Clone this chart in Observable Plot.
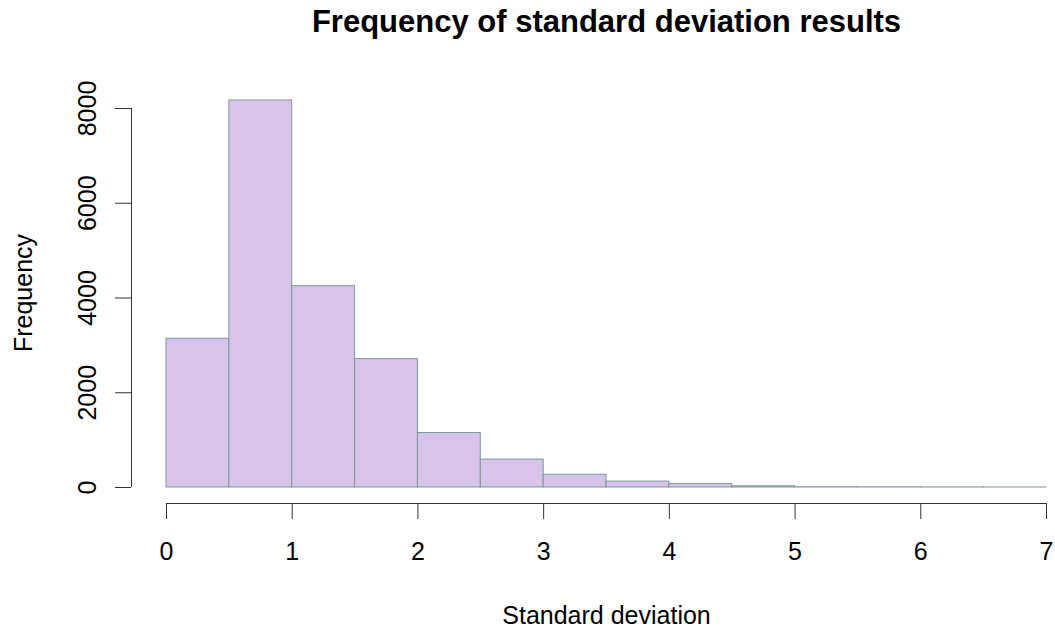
<!DOCTYPE html>
<html>
<head>
<meta charset="utf-8">
<script src="https://cdn.jsdelivr.net/npm/d3@7"></script>
<script src="https://cdn.jsdelivr.net/npm/@observablehq/plot@0.6"></script>
<style>
  html, body { margin: 0; padding: 0; background: #ffffff; }
  #chart svg { display: block; }
</style>
</head>
<body>
<div id="chart"></div>
<script>
// Histogram of standard deviation results: bins of width 0.5 from 0 to 7
const binStart = [0, 0.5, 1, 1.5, 2, 2.5, 3, 3.5, 4, 4.5, 5, 5.5, 6, 6.5];
const binWidth = 0.5;
const frequency = [3140, 8170, 4250, 2710, 1150, 590, 270, 125, 75, 25, 5, 3, 2, 1];

const xTicks = [0, 1, 2, 3, 4, 5, 6, 7];
const yTicks = [0, 2000, 4000, 6000, 8000];

const titleText = "Frequency of standard deviation results";
const xLabel = "Standard deviation";
const yLabel = "Frequency";

const bins = binStart.map((x0, i) => ({x0, x1: x0 + binWidth, count: frequency[i]}));

const axisColor = "#333333";
const fontFamily = "'Liberation Sans', Arial, Helvetica, sans-serif";
const plain = (d) => String(d);

const chart = Plot.plot({
  width: 1055,
  height: 628,
  marginLeft: 166,
  marginRight: 9,
  marginTop: 108,
  marginBottom: 141,
  style: {fontFamily, background: "#ffffff", color: "#000000", overflow: "visible"},
  x: {domain: [0, 7]},
  y: {domain: [0, 8000]},
  marks: [
    // histogram bars
    Plot.rectY(bins, {x1: "x0", x2: "x1", y: "count", fill: "#d8c4ea", stroke: "#7c9999", strokeWidth: 1}),

    // y axis, set off to the left of the bars
    Plot.ruleX([0], {y1: yTicks[0], y2: yTicks[yTicks.length - 1], dx: -35, stroke: axisColor}),
    Plot.axisY(yTicks, {
      dx: -35, tickSize: 16, tickRotate: -90, tickPadding: 20, tickFormat: plain,
      fontSize: 25, label: null, stroke: axisColor, fill: "#000000"
    }),

    // x axis, set off below the bars
    Plot.ruleY([0], {x1: xTicks[0], x2: xTicks[xTicks.length - 1], dy: 16, stroke: axisColor}),
    Plot.axisX(xTicks, {
      dy: 16, tickSize: 16, tickPadding: 23, tickFormat: plain,
      fontSize: 25, label: null, stroke: axisColor, fill: "#000000"
    }),

    // title and axis titles
    Plot.text([titleText], {
      frameAnchor: "top", dy: -77, lineAnchor: "bottom", textAnchor: "middle",
      fontSize: 31, fontWeight: "bold", fill: "#000000"
    }),
    Plot.text([xLabel], {
      frameAnchor: "bottom", dy: 136, lineAnchor: "bottom", textAnchor: "middle",
      fontSize: 25, fill: "#000000"
    }),
    Plot.text([yLabel], {
      frameAnchor: "left", dx: -135, dy: -5, rotate: -90, lineAnchor: "bottom", textAnchor: "middle",
      fontSize: 25, fill: "#000000"
    })
  ]
});

document.getElementById("chart").appendChild(chart);
</script>
</body>
</html>
